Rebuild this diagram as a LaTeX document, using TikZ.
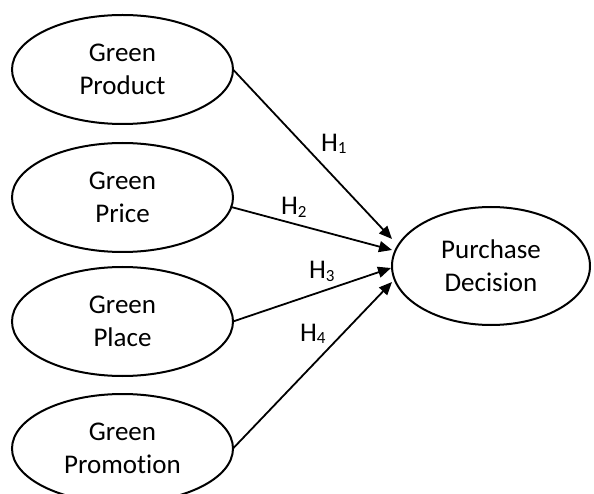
\documentclass[tikz,border=0pt]{standalone}
\usepackage{fontspec}
\setmainfont{Carlito}[Ligatures=NoCommon]
\usetikzlibrary{shapes.geometric,arrows.meta,calc}
% lowered index digit for the hypothesis labels
\newcommand\hypidx[1]{\raisebox{-2.5pt}{\fontsize{17}{17}\selectfont #1}}
\begin{document}
\begin{tikzpicture}[x=1pt,y=-1pt,
  construct/.style={ellipse,draw=black,line width=2pt,
    minimum width=221pt,minimum height=109pt,inner sep=0pt,outer sep=0pt,
    align=center,font=\fontsize{27}{32.7}\selectfont},
  outcome/.style={construct,minimum width=198pt,minimum height=118pt},
  hyp/.style={-{Triangle[length=13pt,width=11pt]},line width=1.8pt},
  hlabel/.style={anchor=base west,inner sep=0pt,outer sep=0pt,
    font=\fontsize{27}{32}\selectfont}]
\clip (0,0) rectangle (594,494);

% independent variables
\node[construct] (prod)  at (122.5,69.5)  {Green\\Product};
\node[construct] (price) at (122.5,197.5) {Green\\Price};
\node[construct] (place) at (122.5,321.5) {Green\\Place};
\node[construct] (promo) at (122.5,448.5) {Green\\Promotion};

% dependent variable
\node[outcome] (pd) at (491,266) {Purchase\\Decision};

% arrow tips in front of the dependent variable
\coordinate (t1) at ($(pd.west)+(0,-27)$);
\coordinate (t2) at ($(pd.west)+(0,-16)$);
\coordinate (t3) at ($(pd.west)+(-1,2)$);
\coordinate (t4) at ($(pd.west)+(0,16)$);

% hypothesised effects
\draw[hyp] (prod.east)  -- (t1);
\draw[hyp] (price.-5)   -- (t2);
\draw[hyp] (place.east) -- (t3);
\draw[hyp] (promo.east) -- (t4);

% hypothesis labels
\node[hlabel] (h1) at (321,151.5) {H\hypidx{1}};
\node[hlabel] (h2) at (281,215)   {H\hypidx{2}};
\node[hlabel] (h3) at (309,279)   {H\hypidx{3}};
\node[hlabel] (h4) at (300,341)   {H\hypidx{4}};
\end{tikzpicture}
\end{document}
